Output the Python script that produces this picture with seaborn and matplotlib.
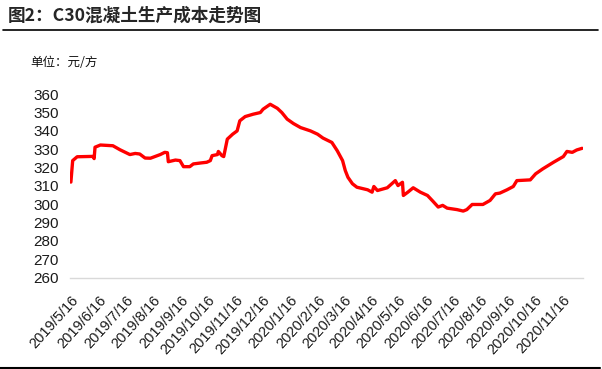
import matplotlib
matplotlib.use("Agg")
import matplotlib.pyplot as plt
import seaborn as sns
import pandas as pd
from matplotlib.lines import Line2D

dates = ["2019-05-16","2019-05-18","2019-05-23","2019-06-10","2019-06-11","2019-06-12","2019-06-18",
         "2019-07-02","2019-07-10","2019-07-21","2019-07-27","2019-08-01","2019-08-07","2019-08-13",
         "2019-08-24","2019-08-29","2019-09-01","2019-09-02","2019-09-10","2019-09-15","2019-09-19",
         "2019-09-26","2019-09-30","2019-10-08","2019-10-15","2019-10-19","2019-10-21","2019-10-27",
         "2019-10-28","2019-11-01","2019-11-03","2019-11-07","2019-11-13","2019-11-18","2019-11-21",
         "2019-11-27","2019-12-06","2019-12-14","2019-12-17","2019-12-25","2020-01-02","2020-01-07",
         "2020-01-13","2020-01-20","2020-01-28","2020-02-08","2020-02-16","2020-02-22","2020-03-03",
         "2020-03-09","2020-03-15","2020-03-18","2020-03-21","2020-03-26","2020-03-31","2020-04-12",
         "2020-04-17","2020-04-19","2020-04-23","2020-05-04","2020-05-13","2020-05-16","2020-05-21",
         "2020-05-22","2020-05-27","2020-06-02","2020-06-10","2020-06-18","2020-06-24","2020-06-30",
         "2020-07-05","2020-07-10","2020-07-21","2020-07-28","2020-08-01","2020-08-07","2020-08-19",
         "2020-08-27","2020-09-02","2020-09-07","2020-09-15","2020-09-22","2020-09-26","2020-10-11",
         "2020-10-17","2020-10-25","2020-11-06","2020-11-17","2020-11-21","2020-11-27","2020-12-02",
         "2020-12-08"]
values = [312.0,323.7,325.8,326.0,324.8,331.0,332.2,
          331.8,329.6,327.0,327.6,327.3,325.1,325.0,
          327.0,328.2,328.0,323.1,324.0,323.7,320.4,
          320.4,321.9,322.4,322.8,323.7,326.4,327.0,
          328.7,326.4,325.9,335.4,338.1,339.9,345.4,
          347.7,349.0,349.9,351.7,354.4,352.2,349.9,
          346.3,343.9,341.7,339.9,338.1,336.0,333.6,
          329.1,323.7,318.3,314.6,311.1,309.2,307.8,
          306.5,309.6,307.4,308.9,312.8,310.1,311.9,
          304.7,306.5,308.9,306.5,304.7,301.6,298.4,
          299.3,297.8,297.0,296.2,297.0,299.8,299.8,
          302.0,305.6,306.0,307.8,309.6,312.8,313.2,
          316.5,319.2,322.8,325.9,328.7,328.2,329.5,
          330.4]

tick_dates = ["2019-05-16","2019-06-16","2019-07-16","2019-08-16","2019-09-16","2019-10-16",
              "2019-11-16","2019-12-16","2020-01-16","2020-02-16","2020-03-16","2020-04-16",
              "2020-05-16","2020-06-16","2020-07-16","2020-08-16","2020-09-16","2020-10-16",
              "2020-11-16"]
tick_labels = ["2019/5/16","2019/6/16","2019/7/16","2019/8/16","2019/9/16","2019/10/16",
               "2019/11/16","2019/12/16","2020/1/16","2020/2/16","2020/3/16","2020/4/16",
               "2020/5/16","2020/6/16","2020/7/16","2020/8/16","2020/9/16","2020/10/16",
               "2020/11/16"]
y_ticks = [260, 270, 280, 290, 300, 310, 320, 330, 340, 350, 360]

title = "图2：C30混凝土生产成本走势图"
unit = "单位：元/方"

sns.set_style("white")
plt.rcParams['font.family'] = ['Liberation Sans', 'Noto Sans CJK SC', 'DejaVu Sans']

df = pd.DataFrame({"date": pd.to_datetime(dates), "value": values})

fig = plt.figure(figsize=(6.02, 3.69), dpi=100)
ax = fig.add_axes([70/602, 1-277.5/369, (583-70)/602, (277.5-94)/369])

sns.lineplot(data=df, x="date", y="value", ax=ax, color="#FF0000", linewidth=2.4)

ax.set_ylim(260, 360)
ax.set_xlim(pd.Timestamp("2019-05-15"), pd.Timestamp("2020-12-09"))
ax.set_yticks(y_ticks)
ax.set_yticklabels([str(v) for v in y_ticks], fontsize=11, color="#1a1a1a")
ax.set_xticks(pd.to_datetime(tick_dates))
ax.set_xticklabels(tick_labels, rotation=48, ha="right", va="top",
                   rotation_mode="anchor", fontsize=10.5, color="#1a1a1a")
ax.set_xlabel("")
ax.set_ylabel("")
for s in ["top", "right", "left"]:
    ax.spines[s].set_visible(False)
ax.spines["bottom"].set_color("#d9d9d9")
ax.spines["bottom"].set_linewidth(1.0)
ax.tick_params(axis="x", direction="out", length=5, color="#d0d0d0", width=1, pad=6)
ax.tick_params(axis="y", length=0, pad=8)
ax.grid(False)

fig.text(8/602, 1-16/369, title, fontsize=12.7, fontweight="bold",
         family=['Noto Sans CJK SC', 'DejaVu Sans'], va="center", ha="left")
fig.add_artist(Line2D([3/602, 598/602], [1-29.5/369, 1-29.5/369], color="black", linewidth=1.2))
fig.text(30/602, 1-62/369, unit, fontsize=9, family=['Noto Sans CJK SC', 'DejaVu Sans'],
         va="center", ha="left", color="#111111")
fig.add_artist(Line2D([0/602, 600/602], [1-367.5/369, 1-367.5/369], color="black", linewidth=1.5))

fig.savefig("out.png", dpi=100)
